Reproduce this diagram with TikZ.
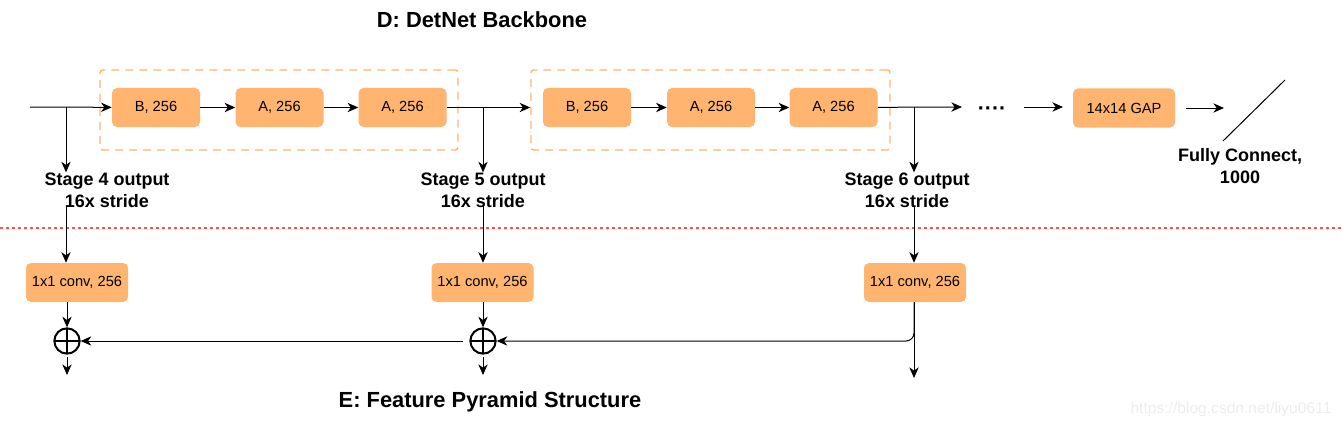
\documentclass[tikz,border=0pt]{standalone}
\usepackage{fontspec}
\setmainfont{Liberation Sans}
\usetikzlibrary{arrows.meta,positioning}
\definecolor{boxorange}{RGB}{255,181,112}
\definecolor{cutred}{RGB}{255,80,80}
\definecolor{marklight}{RGB}{236,236,236}

\tikzset{
  block/.style={fill=boxorange, rounded corners=3.75pt, minimum width=66pt, minimum height=29.25pt,
    inner sep=0pt, font=\fontsize{11}{13}\selectfont},
  convblock/.style={block, minimum width=76.5pt},
  group/.style={draw=boxorange, line width=1.1pt, dash pattern=on 6pt off 4.5pt, rounded corners=2pt,
    minimum height=60pt, inner sep=0pt},
  arr/.style={line width=0.75pt, -{Stealth[length=8pt,width=7pt,inset=2.5pt]}},
  stagelabel/.style={align=center, font=\fontsize{13.5}{16.5}\selectfont\bfseries, inner sep=0pt},
  title/.style={font=\fontsize{16.4}{19}\selectfont\bfseries, inner sep=0pt},
  sum/.style={circle, draw, line width=1.5pt, minimum size=19pt, inner sep=0pt,
    path picture={\draw[line width=1.5pt] (path picture bounding box.north) -- (path picture bounding box.south)
      (path picture bounding box.west) -- (path picture bounding box.east);}}
}

\begin{document}
\begin{tikzpicture}[x=0.75pt, y=-0.75pt]
    \useasboundingbox (0,0) rectangle (1342,428);

    % titles
    \node[title] (titleD) at (482,20) {D: DetNet Backbone};
    \node[title] (titleE) at (490,402) {E: Feature Pyramid Structure};

    % backbone stages
    \node[group, minimum width=268.5pt] (grp1) at (279,110) {};
    \node[group, minimum width=269.25pt] (grp2) at (710.5,110) {};
    \node[block] (b1) at (156,107.5) {B, 256};
    \node[block] (a1) at (279.5,107.5) {A, 256};
    \node[block] (a2) at (402.5,107.5) {A, 256};
    \node[block] (b2) at (587,107.5) {B, 256};
    \node[block] (a3) at (711,107.5) {A, 256};
    \node[block] (a4) at (833.5,107.5) {A, 256};
    \node[block, minimum width=76.5pt] (gap) at (1124,108) {14x14 GAP};
    \node[font=\fontsize{16}{18}\selectfont\bfseries, inner sep=0pt] (dots) at (992,111) {····};

    \coordinate (in) at (30,107);
    \coordinate (t4) at (66,107);
    \coordinate (t5) at (483,107);
    \coordinate (t6) at (914,107);
    \coordinate (dotsin) at (962,107);
    \coordinate (gapin0) at (1024,107);
    \coordinate (gapin) at (1063,107);
    \coordinate (fcin0) at (1186,108);
    \coordinate (fcin) at (1224,108);
    \coordinate (fclo) at (1223,141);
    \coordinate (fchi) at (1285,80);

    \draw[arr] (in) -- (b1);
    \draw[arr] (b1) -- (a1);
    \draw[arr] (a1) -- (a2);
    \draw[arr] (a2) -- (a2 -| grp2.west);
    \draw[arr] (b2) -- (a3);
    \draw[arr] (a3) -- (a4);
    \draw[arr] (a4) -- (dotsin);
    \draw[arr] (gapin0) -- (gapin);
    \draw[arr] (fcin0) -- (fcin);
    \draw[line width=0.75pt] (fclo) -- (fchi);
    \node[stagelabel] (fc) at (1240,166) {Fully Connect,\\1000};

    % stage outputs
    \node[stagelabel] (lab4) at (107,190) {Stage 4 output\\16x stride};
    \node[stagelabel] (lab5) at (483,190) {Stage 5 output\\16x stride};
    \node[stagelabel] (lab6) at (907,190) {Stage 6 output\\16x stride};
    \draw[arr] (t4) -- (t4 |- lab4.north);
    \draw[arr] (t5) -- (t5 |- lab5.north);
    \draw[arr] (t6) -- (t6 |- lab6.north);

    % split line
    \draw[cutred, line width=1pt, dash pattern=on 2.5pt off 2pt] (0,228) -- (1342,228);

    % feature pyramid
    \node[convblock] (conv1) at (77,282.5) {1x1 conv, 256};
    \node[convblock] (conv2) at (482.5,282.5) {1x1 conv, 256};
    \node[convblock] (conv3) at (915,282.5) {1x1 conv, 256};
    \node[sum] (sum1) at (67,341) {};
    \node[sum] (sum2) at (483,341) {};
    \coordinate (out1) at (67,375);
    \coordinate (out2) at (483,375);
    \coordinate (out3) at (914,378);

    \draw[arr] (t4 |- lab4.south) ++(0,-2) -- (t4 |- conv1.north);
    \draw[arr] (t5 |- lab5.south) ++(0,-2) -- (t5 |- conv2.north);
    \draw[arr] (t6 |- lab6.south) ++(0,-2) -- (t6 |- conv3.north);
    \draw[arr] (sum1 |- conv1.south) -- (sum1.north);
    \draw[arr] (sum2 |- conv2.south) -- (sum2.north);
    \draw[arr] (t6 |- conv3.south) -- (out3);
    \draw[arr, rounded corners=6pt] (t6 |- conv3.south) -- (t6 |- sum2) -- (sum2.east);
    \draw[arr, shorten <=5pt] (sum2.west) -- (sum1.east);
    \draw[arr, shorten <=2pt] (sum1.south) -- (out1);
    \draw[arr, shorten <=2pt] (sum2.south) -- (out2);

    \node[text=marklight, font=\fontsize{11.7}{14}\selectfont, inner sep=0pt] (mark) at (1231,409) {https://blog.csdn.net/liyu0611};
\end{tikzpicture}
\end{document}
